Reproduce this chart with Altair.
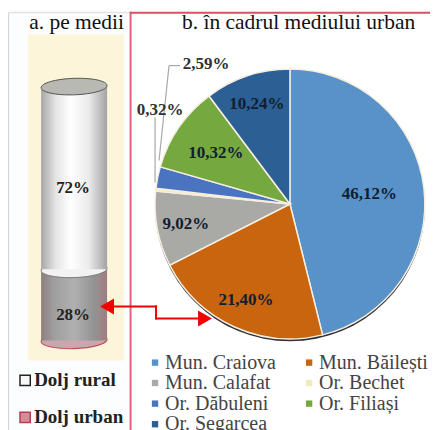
import json
import math
import altair as alt
import pandas as pd

# ---- values ----
cities = ["Mun. Craiova", "Mun. Băilești", "Mun. Calafat", "Or. Bechet", "Or. Dăbuleni", "Or. Filiași", "Or. Segarcea"]
shares = [46.12, 21.40, 9.02, 0.32, 2.59, 10.32, 10.24]
share_labels = ["46,12%", "21,40%", "9,02%", "0,32%", "2,59%", "10,32%", "10,24%"]
colors = ["#5892C8", "#C9640F", "#A9A9A6", "#F3E9C0", "#4A74C0", "#76A840", "#2C5F93"]
segments = ["Dolj urban", "Dolj rural"]
segment_values = [28, 72]
segment_labels = ["28%", "72%"]

# The page (chart + margins) is slightly larger than the window and is fitted to it,
# so all lengths are given in final-picture pixels and multiplied by K.
K = 446 / 438
W, H = 430, 422
def X(px): return px * K - 8
def Y(px): return px * K - 11.5

pie_df = pd.DataFrame({"city": cities, "share": shares, "label": share_labels, "i": range(len(cities))})
pie_df["mid"] = (pie_df["share"].cumsum() - pie_df["share"] / 2) / pie_df["share"].sum() * 2 * math.pi
start = [0, segment_values[0]]
end = [segment_values[0], 100]
cyl_df = pd.DataFrame({"seg": segments, "start": start, "end": end, "label": segment_labels,
                       "mid": [(a + b) / 2 for a, b in zip(start, end)]})
one = alt.Data(values=[{"a": 1}])
serif = "Liberation Serif"
yscale = alt.Scale(domain=[0, 100], range=[Y(340), Y(86)])
CX, CY, R = X(290), Y(203.5), 135 * K

def grad(*cols):
    return alt.LinearGradient(gradient="linear", x1=0, x2=1, y1=0, y2=0,
                              stops=[alt.GradientStop(offset=o, color=c) for o, c in cols])

white_grad = grad((0, "#a6a6a6"), (0.22, "#e4e4e4"), (0.45, "#ffffff"), (0.72, "#ebebeb"), (1, "#a3a3a3"))
gray_grad = grad((0, "#8d7f80"), (0.2, "#9f9f9f"), (0.5, "#b0b0b0"), (0.8, "#939393"), (1, "#a07c80"))
ELLIPSE = "M-1,0A1,0.25 0 1 1 1,0A1,0.25 0 1 1 -1,0Z"
ESIZE = (66 * K) ** 2

def rect(x1, x2, y1, y2, color):
    return alt.Chart(one).mark_rect(color=color).encode(
        x=alt.value(X(x1)), x2=alt.value(X(x2)), y=alt.value(Y(y1)), y2=alt.value(Y(y2)))

def seg(x1, y1, x2, y2, color, w):
    return alt.Chart(one).mark_rule(color=color, strokeWidth=w * K).encode(
        x=alt.value(X(x1)), x2=alt.value(X(x2)), y=alt.value(Y(y1)), y2=alt.value(Y(y2)))

def txt(s, x, y, size, bold=False, color="#111111", align="left"):
    return alt.Chart(one).mark_text(text=s, font=serif, fontSize=size * K, align=align, baseline="middle",
                                    fontWeight="bold" if bold else "normal", color=color).encode(
        x=alt.value(X(x)), y=alt.value(Y(y)))

def tri(shape, x, y):
    return alt.Chart(one).mark_point(shape=shape, size=256 * K * K, filled=True, color="#F00000", opacity=1).encode(
        x=alt.value(X(x)), y=alt.value(Y(y)))

def ell(value, fill, stroke, sw=1):
    return alt.Chart(one).mark_point(shape=ELLIPSE, size=ESIZE, filled=True, fill=fill, stroke=stroke,
                                     strokeWidth=sw, opacity=1, angle=358).encode(
        x=alt.value(X(74)), y=alt.Y("v:Q", scale=yscale, axis=None)).transform_calculate(v=str(value))

# panels
panels = [
    rect(8, 130, 12, 436, "#FBFDFF"),
    rect(28, 124, 34, 360, "#FDF5DA"),
    rect(7, 9, 12, 436, "#D6D6D6"),
    rect(8, 130, 11, 12.5, "#E2E2E2"),
    rect(129.5, 131.5, 11, 436, "#E4647C"),
    rect(130, 438, 11, 13, "#D9505F"),
]

# cylinder
gray_body = alt.Chart(cyl_df[cyl_df.seg == "Dolj urban"]).mark_rect(fill=gray_grad).encode(
    x=alt.value(X(41)), x2=alt.value(X(107)),
    y=alt.Y("start:Q", scale=yscale, axis=None), y2="end:Q")
white_body = alt.Chart(cyl_df[cyl_df.seg == "Dolj rural"]).mark_rect(fill=white_grad).encode(
    x=alt.value(X(41)), x2=alt.value(X(107)),
    y=alt.Y("start:Q", scale=yscale, axis=None), y2="end:Q")
cyl_text = alt.Chart(cyl_df).mark_text(font=serif, fontSize=17 * K, fontWeight="bold", color="#222222", dy=10).encode(
    x=alt.value(X(73)), y=alt.Y("mid:Q", scale=yscale, axis=None), text="label:N")
cylinder = [
    ell(0, "#C9A7AC", "#C05060", 1.2),
    gray_body,
    ell(28, "#f2f2f2", "#777777", 1),
    white_body,
    ell(100, "#B9B9B4", "#55554f", 1),
    cyl_text,
]

# pie
shadow = alt.Chart(one).mark_arc(theta=0, theta2=6.2832, outerRadius=R, color="#2f3238").encode(
    x=alt.value(CX), y=alt.value(CY + 2.5))
arcs = alt.Chart(pie_df).mark_arc(outerRadius=R, stroke="#F6EEDF", strokeWidth=1.5).encode(
    x=alt.value(CX), y=alt.value(CY),
    theta=alt.Theta("share:Q", stack=True),
    order=alt.Order("i:Q"),
    color=alt.Color("city:N", sort=cities, scale=alt.Scale(domain=cities, range=colors),
                    legend=alt.Legend(title=None, orient="none", legendX=X(145), legendY=Y(352),
                                      columns=2, direction="horizontal", symbolType="square", symbolSize=42,
                                      symbolStrokeWidth=0, labelFont=serif, labelFontSize=20 * K, labelColor="#444444",
                                      labelOffset=0, columnPadding=23, rowPadding=0, labelLimit=220)),
)
label_radius = {"Mun. Craiova": 80 * K, "Mun. Băilești": 106 * K, "Mun. Calafat": 106 * K,
                "Or. Filiași": 90 * K, "Or. Segarcea": 105 * K}
inner_labels = alt.Chart(pie_df).transform_calculate(
    r=f"{json.dumps(label_radius, ensure_ascii=False)}[datum.city] || 0",
    shown="datum.share > 5 ? datum.label : ''",
).mark_text(font=serif, fontSize=17 * K, fontWeight="bold", color="#102030").encode(
    x=alt.value(CX), y=alt.value(CY),
    theta=alt.Theta("mid:Q", scale=None),
    radius=alt.Radius("r:Q", scale=None),
    text="shown:N",
)

# leader lines, outside labels
leaders = [
    seg(155, 117, 155, 182, "#A8A8A8", 1.2),
    seg(180, 65, 169, 65, "#A8A8A8", 1.2),
    seg(169, 65, 159, 160, "#A8A8A8", 1.2),
    txt(share_labels[3], 160, 110, 17, True, "#303030", "center"),
    txt(share_labels[4], 206, 63, 17, True, "#303030", "center"),
]

# arrows
arrows = [
    seg(113, 306, 157, 306, "#F00000", 2),
    seg(156, 305, 156, 319, "#F00000", 2),
    seg(155, 318, 200, 318, "#F00000", 2),
    tri("triangle-left", 107, 306),
    tri("triangle-right", 205, 318),
]

# headings and left legend
texts = [
    txt("a. pe medii", 29, 22, 21.5),
    txt("b. în cadrul mediului urban", 182, 22, 21.5),
    alt.Chart(one).mark_point(shape="square", size=110, filled=True, fill="#F7F7F7", stroke="#222222",
                              strokeWidth=1.5, opacity=1).encode(x=alt.value(X(25)), y=alt.value(Y(380))),
    alt.Chart(one).mark_point(shape="square", size=110, filled=True, fill="#D88A98", stroke="#B0404F",
                              strokeWidth=1.5, opacity=1).encode(x=alt.value(X(25)), y=alt.value(Y(417))),
    txt(segments[1], 34, 380, 19, True, "#222222"),
    txt(segments[0], 34, 417, 19, True, "#222222"),
]

chart = alt.layer(*panels, *cylinder, shadow, arcs, inner_labels, *leaders, *arrows, *texts).properties(
    width=W, height=H, padding=0, autosize=alt.AutoSizeParams(type="none"),
    background="white",
).configure_view(stroke=None).resolve_scale(theta="independent")

chart.save("out.html", embed_options={"renderer": "svg", "actions": False})
